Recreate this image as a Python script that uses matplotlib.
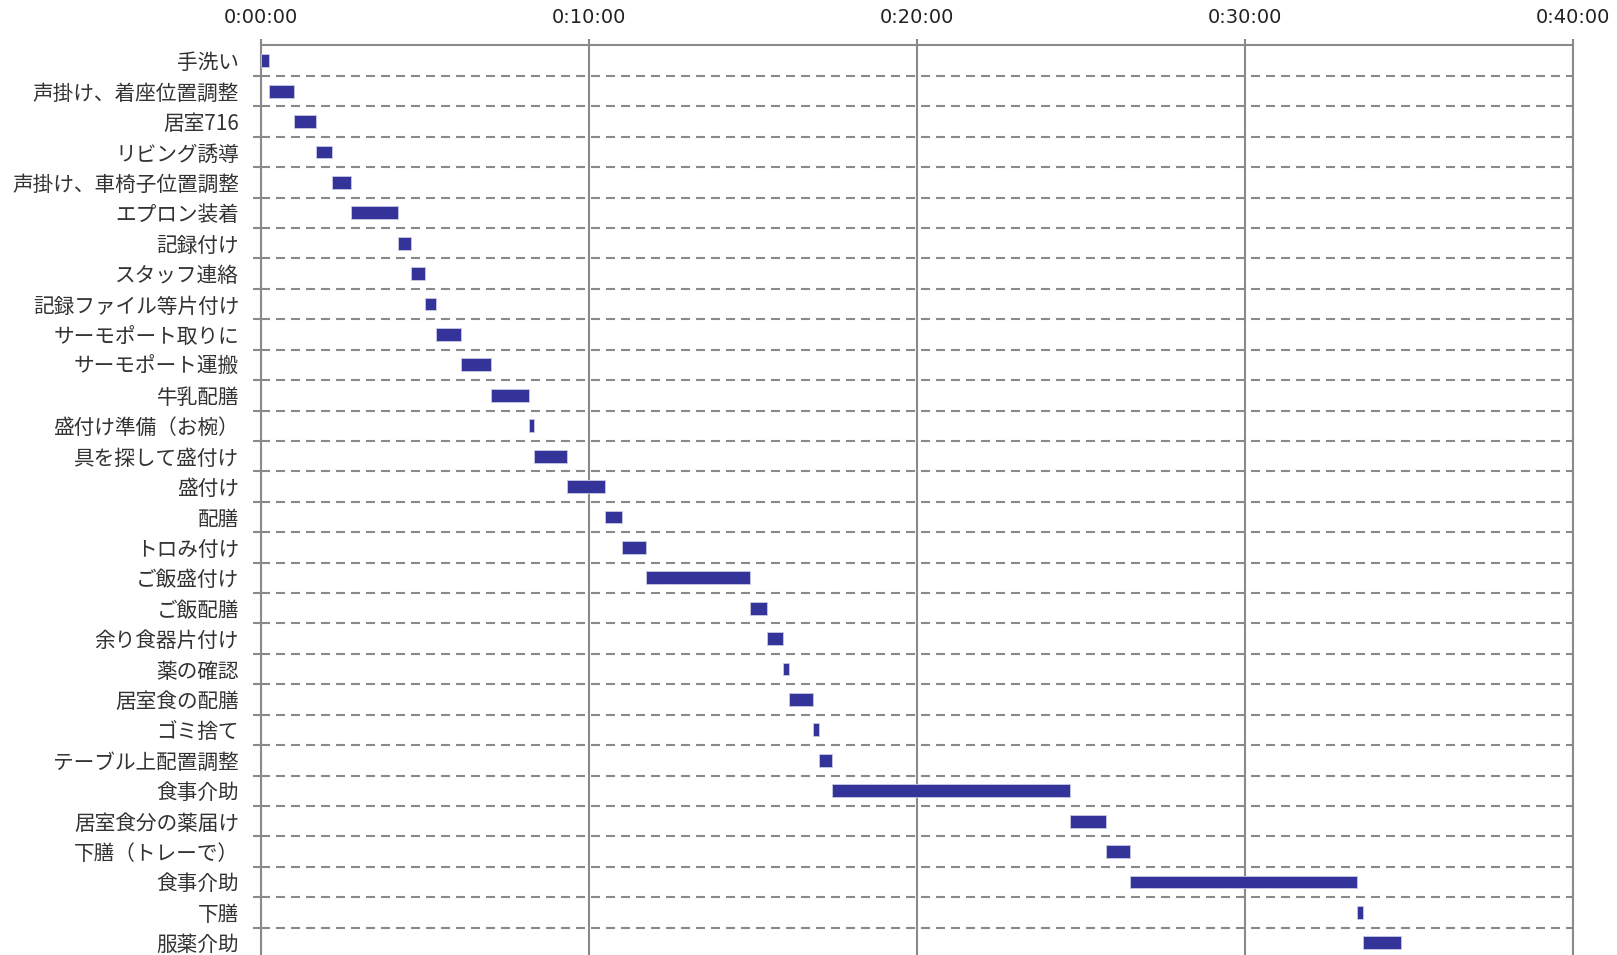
import matplotlib
matplotlib.use("Agg")
import matplotlib.pyplot as plt
from matplotlib.ticker import FixedLocator, FuncFormatter

plt.rcParams['font.family'] = ['Noto Sans CJK JP', 'DejaVu Sans']
plt.rcParams['lines.scale_dashes'] = False

# 作業項目と開始・終了時刻（秒）
tasks = [
    "手洗い", "声掛け、着座位置調整", "居室716", "リビング誘導",
    "声掛け、車椅子位置調整", "エプロン装着", "記録付け", "スタッフ連絡",
    "記録ファイル等片付け", "サーモポート取りに", "サーモポート運搬", "牛乳配膳",
    "盛付け準備（お椀）", "具を探して盛付け", "盛付け", "配膳",
    "トロみ付け", "ご飯盛付け", "ご飯配膳", "余り食器片付け",
    "薬の確認", "居室食の配膳", "ゴミ捨て", "テーブル上配置調整",
    "食事介助", "居室食分の薬届け", "下膳（トレーで）", "食事介助",
    "下膳", "服薬介助",
]
start_sec = [0, 15, 60, 100, 130, 165, 250, 275, 300, 320, 365, 420,
             490, 500, 560, 630, 660, 705, 895, 925, 955, 965, 1010, 1020,
             1045, 1480, 1545, 1590, 2005, 2015]
end_sec = [15, 60, 100, 130, 165, 250, 275, 300, 320, 365, 420, 490,
           500, 560, 630, 660, 705, 895, 925, 955, 965, 1010, 1020, 1045,
           1480, 1545, 1590, 2005, 2015, 2085]
x_ticks = [0, 600, 1200, 1800, 2400]

grid_col = "#8a8a8a"
bar_col = "#333399"

fig = plt.figure(figsize=(16.17, 9.55), dpi=100)
ax = fig.add_axes([261 / 1617, -3 / 955, (1573 - 261) / 1617, (958 - 45.5) / 955])

rows = list(range(len(tasks)))
widths = [e - s for s, e in zip(start_sec, end_sec)]
ax.barh(rows, widths, left=start_sec, height=0.42, color=bar_col,
        edgecolor="#c9c9e3", linewidth=0.6, zorder=3)

ax.set_xlim(0, 2400)
ax.set_ylim(len(tasks) - 0.5, -0.5)

def fmt_time(v, pos):
    v = int(round(v))
    return f"{v // 3600}:{(v // 60) % 60:02d}:{v % 60:02d}"

ax.xaxis.tick_top()
ax.xaxis.set_major_locator(FixedLocator(x_ticks))
ax.xaxis.set_major_formatter(FuncFormatter(fmt_time))
ax.tick_params(axis="x", which="major", length=4.3, width=1.5, color=grid_col,
               pad=8.7, labelsize=14, labelcolor="#222222")
for lab in ax.get_xticklabels():
    lab.set_family("DejaVu Sans")

ax.set_yticks(rows)
ax.set_yticklabels(tasks)
ax.set_yticks([r + 0.5 for r in rows[:-1]], minor=True)
ax.tick_params(axis="y", which="major", length=0, pad=15.8, labelsize=14.9,
               labelcolor="#333333")
ax.tick_params(axis="y", which="minor", length=5.8, width=1.5, color=grid_col)

ax.grid(axis="x", which="major", color=grid_col, linewidth=1.5, zorder=1)
ax.grid(axis="y", which="minor", color=grid_col, linewidth=1.5,
        linestyle=(0, (6.5, 4.3)), zorder=1)

for side in ["left", "top", "right"]:
    ax.spines[side].set_color(grid_col)
    ax.spines[side].set_linewidth(1.5)
ax.spines["bottom"].set_visible(False)
ax.set_axisbelow(True)

fig.savefig("out.png", dpi=100)
